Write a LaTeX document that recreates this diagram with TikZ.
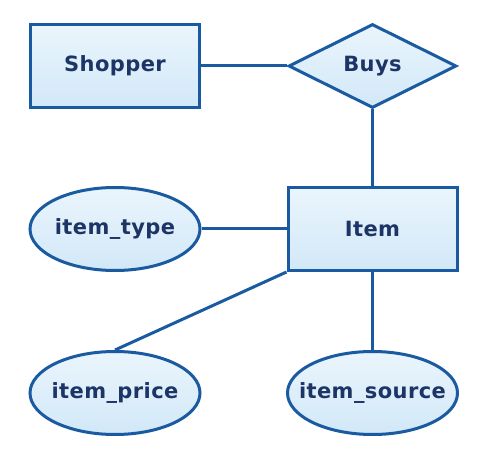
\documentclass[tikz,border=0pt]{standalone}
\usepackage{fontspec}
\setmainfont{DejaVu Sans}[LetterSpace=2]
\usetikzlibrary{shapes.geometric}
\definecolor{edge}{HTML}{1A5AA0}
\definecolor{txt}{HTML}{1C3566}
\definecolor{ftop}{HTML}{EAF5FC}
\definecolor{fbot}{HTML}{D2E8F8}
\tikzset{
  base/.style={draw=edge, line width=3pt, top color=ftop, bottom color=fbot,
    text=txt, font=\fontsize{21}{25}\selectfont\bfseries, inner sep=0pt},
  entity/.style={base, rectangle, minimum width=169pt, minimum height=83pt},
  attr/.style={base, ellipse, minimum width=170pt, minimum height=83pt},
  rel/.style={base, diamond, minimum width=168pt, minimum height=84pt},
  link/.style={draw=edge, line width=3pt}
}
\begin{document}
\begin{tikzpicture}[x=1pt,y=1pt]
\useasboundingbox (0,0) rectangle (488,456);
\node[entity] (shopper) at (115,390) {Shopper};
\node[rel] (buys) at (372.5,390) {\makebox[0pt]{Buys}};
\node[entity] (item) at (372.5,227) {Item};
\node[attr] (type) at (115,227) {\makebox[0pt]{item\_type}};
\node[attr] (price) at (115,63) {\makebox[0pt]{item\_price}};
\node[attr] (source) at (372.5,63) {\makebox[0pt]{item\_source}};
\draw[link] (shopper.east) -- (buys.west);
\draw[link] (buys.south) -- (item.north);
\draw[link] (type.east) -- (item.west);
\draw[link] (price.north) -- (item.south west);
\draw[link] (item.south) -- (source.north);
\end{tikzpicture}
\end{document}
